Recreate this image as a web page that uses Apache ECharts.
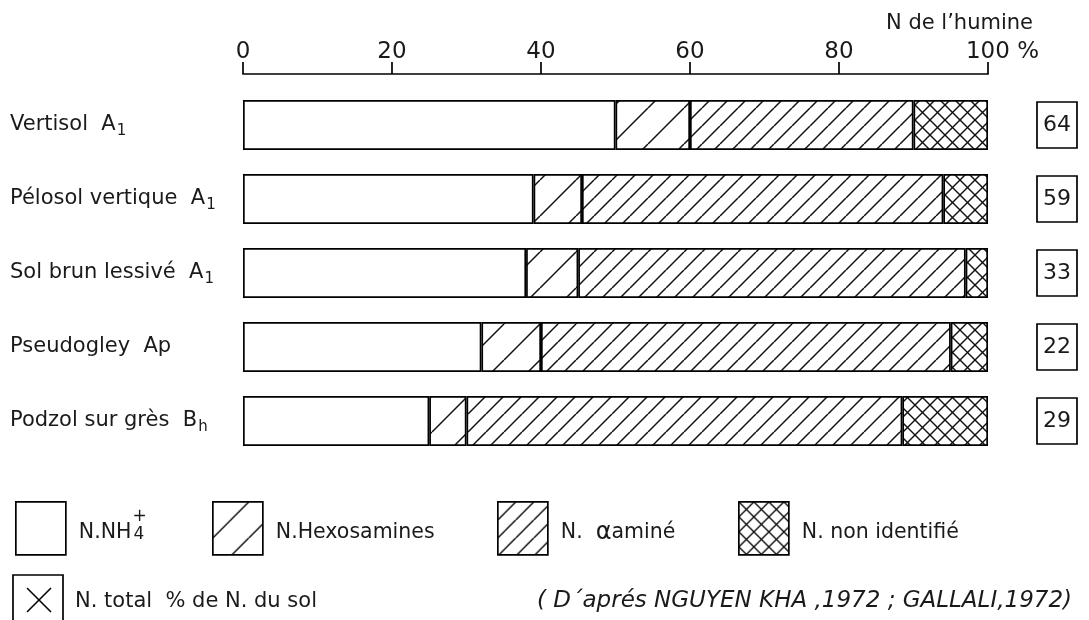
<!DOCTYPE html>
<html>
<head>
<meta charset="utf-8">
<script src="https://cdn.jsdelivr.net/npm/echarts@6/dist/echarts.min.js"></script>
<style>
html,body{margin:0;padding:0;background:#fff;}
#chart{width:1089px;height:620px;}
</style>
</head>
<body>
<div id="chart"></div>
<script>
// ---- data ----
const categories = ['Vertisol', 'Pélosol vertique', 'Sol brun lessivé', 'Pseudogley', 'Podzol sur grès'];
const horizonMain = ['A', 'A', 'A', 'Ap', 'B'];
const horizonSub = ['1', '1', '1', '', 'h'];
const seriesNames = ['N.NH4+', 'N.Hexosamines', 'N. αaminé', 'N. non identifié'];
const nNH4 = [50, 39, 38, 32, 25];
const nHexosamines = [10, 6.5, 7, 8, 5];
const nAlphaAmine = [30, 48.5, 52, 55, 58.5];
const nNonIdentifie = [10, 6, 3, 5, 11.5];
const nTotalPct = [64, 59, 33, 22, 29];

const FONT = 'DejaVu Sans';
const INK = '#1a1a1a';

function hatch(size, dirs, lw) {
  const c = document.createElement('canvas');
  c.width = size; c.height = size;
  const g = c.getContext('2d');
  g.fillStyle = '#fff';
  g.fillRect(0, 0, size, size);
  g.strokeStyle = '#111';
  g.lineWidth = lw;
  dirs.forEach(function (d) {
    for (let k = -1; k <= 1; k++) {
      g.beginPath();
      if (d === '/') { g.moveTo(k * size, size); g.lineTo(k * size + size, 0); }
      else { g.moveTo(k * size, 0); g.lineTo(k * size + size, size); }
      g.stroke();
    }
  });
  return c;
}
const patterns = [
  '#ffffff',
  { image: hatch(36, ['/'], 1.5), repeat: 'repeat' },
  { image: hatch(18, ['/'], 1.5), repeat: 'repeat' },
  { image: hatch(15, ['/', '\\'], 1.4), repeat: 'repeat' }
];
const values = [nNH4, nHexosamines, nAlphaAmine, nNonIdentifie];

const chart = echarts.init(document.getElementById('chart'), null, { renderer: 'canvas' });

const series = seriesNames.map(function (name, i) {
  return {
    name: name,
    type: 'bar',
    stack: 'total',
    barWidth: 50,
    data: values[i],
    itemStyle: { color: patterns[i], borderColor: '#000', borderWidth: 1.7 },
    emphasis: { disabled: true },
    silent: true
  };
});

const legendLefts = [10, 207, 492, 733];
const legends = seriesNames.map(function (name, i) {
  return {
    data: [name],
    left: legendLefts[i],
    top: 496,
    orient: 'horizontal',
    icon: 'rect',
    itemWidth: 50,
    itemHeight: 53,
    selectedMode: false,
    itemStyle: { borderColor: '#000', borderWidth: 1.7 },
    textStyle: {
      fontFamily: FONT, fontSize: 20.5, color: INK, padding: [8, 0, 0, 8],
      rich: {
        t: { fontFamily: FONT, fontSize: 20.5, color: INK },
        sup: { fontFamily: FONT, fontSize: 17, color: INK, width: 0, padding: [0, 0, 32, 1] },
        sub: { fontFamily: FONT, fontSize: 17, color: INK, padding: [4, 0, 0, 1] },
        al: { fontFamily: FONT, fontSize: 24, color: INK }
      }
    },
    formatter: function (n) {
      if (n === 'N.NH4+') return '{t|N.NH}{sup|+}{sub|4}';
      if (n === 'N. αaminé') return 'N.  {al|α}aminé';
      return n;
    }
  };
});

const option = {
  backgroundColor: '#fff',
  animation: false,
  textStyle: { fontFamily: FONT },
  grid: { left: 243, right: 101, top: 88, height: 370, containLabel: false },
  xAxis: {
    type: 'value',
    position: 'top',
    min: 0, max: 100, interval: 20,
    offset: 14,
    axisLine: { show: true, lineStyle: { color: '#000', width: 1.7 } },
    axisTick: { show: true, length: 12, lineStyle: { color: '#000', width: 1.7 } },
    splitLine: { show: false },
    axisLabel: {
      margin: 10, fontFamily: FONT, fontSize: 23, color: INK,
      formatter: function (v) { return v === 100 ? '{pad|}100{pct| %}' : String(v); },
      rich: {
        pad: { width: 29 },
        pct: { fontFamily: FONT, fontSize: 23, color: INK }
      }
    }
  },
  yAxis: [{
    type: 'category',
    inverse: true,
    data: categories,
    axisLine: { show: false },
    axisTick: { show: false },
    axisLabel: {
      align: 'left', margin: 233, fontFamily: FONT, fontSize: 21, color: INK,
      formatter: function (v, i) {
        const sub = horizonSub[i] ? '{s|' + horizonSub[i] + '}' : '';
        return '{m|' + v + '  ' + horizonMain[i] + '}' + sub;
      },
      rich: {
        m: { fontFamily: FONT, fontSize: 21, color: INK, lineHeight: 28 },
        s: { fontFamily: FONT, fontSize: 15, color: INK, lineHeight: 18, verticalAlign: 'bottom', padding: [0, 0, 0, 1] }
      }
    }
  }, {
    type: 'category',
    inverse: true,
    position: 'right',
    data: nTotalPct.map(String),
    axisLine: { show: false },
    axisTick: { show: false },
    axisLabel: {
      align: 'left', margin: 49,
      formatter: function (v) { return '{b|' + v + '}'; },
      rich: {
        b: {
          fontFamily: FONT, fontSize: 22, color: INK, width: 40, height: 46, lineHeight: 46,
          align: 'center', borderColor: '#000', borderWidth: 1.7
        }
      }
    }
  }],
  legend: legends,
  series: series,
  graphic: [
    { type: 'text', right: 1089 - 1033, top: 13, style: { text: 'N de l’humine', font: '21px "DejaVu Sans"', fill: INK } },
    { type: 'rect', shape: { x: 13, y: 575, width: 50, height: 50 }, style: { fill: '#fff', stroke: '#000', lineWidth: 1.7 } },
    { type: 'line', shape: { x1: 27, y1: 588, x2: 51, y2: 612 }, style: { stroke: '#000', lineWidth: 1.6 } },
    { type: 'line', shape: { x1: 51, y1: 588, x2: 27, y2: 612 }, style: { stroke: '#000', lineWidth: 1.6 } },
    { type: 'text', left: 75, top: 591, style: { text: 'N. total  % de N. du sol', font: '21px "DejaVu Sans"', fill: INK } },
    { type: 'text', left: 537, top: 590, style: { text: '( D´aprés NGUYEN KHA ,1972 ; GALLALI,1972)', font: 'italic 23px "DejaVu Sans"', fill: INK } }
  ]
};
chart.setOption(option);
</script>
</body>
</html>
